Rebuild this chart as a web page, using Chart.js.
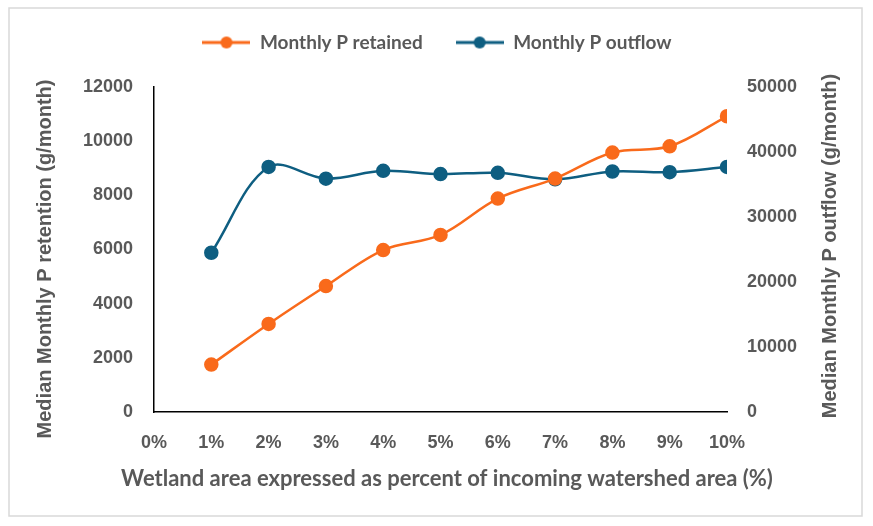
<!DOCTYPE html>
<html>
<head>
<meta charset="utf-8">
<script src="https://cdn.jsdelivr.net/npm/chart.js@4.4.1/dist/chart.umd.min.js"></script>
<style>
  body { margin: 0; background: #fff; }
  #wrap { width: 873px; height: 526px; }
</style>
</head>
<body>
<div id="wrap"><canvas id="chart" width="873" height="526"></canvas></div>
<script>
const areaPct = [1, 2, 3, 4, 5, 6, 7, 8, 9, 10];
const pRetained = [1750, 3250, 4650, 5980, 6540, 7880, 8620, 9580, 9810, 10920];
const pOutflow = [24500, 37700, 35900, 37100, 36600, 36800, 35800, 37000, 36900, 37700];
const retainedTicks = [0, 2000, 4000, 6000, 8000, 10000, 12000];
const outflowTicks = [0, 10000, 20000, 30000, 40000, 50000];

const ORANGE = '#F96A1B';
const BLUE = '#0E5E81';
const GREY = '#595959';
const TITLE_FONT = 'bold 20px "Liberation Sans"';
const X_TITLE = 'Wetland area expressed as percent of incoming watershed area (%)';

// little line + dot picture for the legend
function legendIcon(color) {
  const c = document.createElement('canvas');
  c.width = 48; c.height = 14;
  const g = c.getContext('2d');
  g.strokeStyle = color; g.lineWidth = 3;
  g.beginPath(); g.moveTo(0, 7); g.lineTo(48, 7); g.stroke();
  g.fillStyle = color;
  g.beginPath(); g.arc(24, 7, 6, 0, Math.PI * 2); g.fill();
  return c;
}

const frame = {
  id: 'frame',
  beforeDraw(chart) {
    const ctx = chart.ctx;
    ctx.save();
    ctx.fillStyle = '#fff';
    ctx.fillRect(0, 0, chart.width, chart.height);
    ctx.strokeStyle = '#d9d9d9';
    ctx.lineWidth = 1.5;
    ctx.strokeRect(9, 8, 853, 508);
    ctx.restore();
  },
  // axis titles drawn by hand: both value titles read bottom to top
  afterDraw(chart) {
    const ctx = chart.ctx;
    ctx.save();
    ctx.fillStyle = GREY;
    ctx.font = TITLE_FONT;
    ctx.textAlign = 'center';
    ctx.textBaseline = 'middle';
    [[45, 259, 'Median Monthly P retention (g/month)'],
     [830, 246, 'Median Monthly P outflow (g/month)']].forEach(t => {
      ctx.save();
      ctx.translate(t[0], t[1]);
      ctx.rotate(-Math.PI / 2);
      ctx.fillText(t[2], 0, 0);
      ctx.restore();
    });
    ctx.font = 'bold 22px Lato';
    ctx.fillText(X_TITLE, 447, 479);
    ctx.restore();
  }
};

const legendFit = {
  id: 'legendFit',
  beforeInit(chart) {
    const fit = chart.legend.fit;
    chart.legend.fit = function () {
      fit.bind(chart.legend)();
      this.height = 87;
    };
  }
};

const tickFont = { family: 'Liberation Sans', size: 18, weight: 'bold' };

new Chart(document.getElementById('chart'), {
  type: 'line',
  data: {
    datasets: [
      {
        label: 'Monthly P retained',
        data: areaPct.map((x, i) => ({ x: x, y: pRetained[i] })),
        borderColor: ORANGE,
        backgroundColor: ORANGE,
        borderWidth: 2.5,
        pointRadius: 6,
        pointHoverRadius: 6,
        tension: 0.35,
        yAxisID: 'y'
      },
      {
        label: 'Monthly P outflow',
        data: areaPct.map((x, i) => ({ x: x, y: pOutflow[i] })),
        borderColor: BLUE,
        backgroundColor: BLUE,
        borderWidth: 2.5,
        pointRadius: 6,
        pointHoverRadius: 6,
        tension: 0.35,
        yAxisID: 'y1'
      }
    ]
  },
  options: {
    responsive: false,
    animation: false,
    devicePixelRatio: 1,
    layout: { padding: { top: 0, left: 30, right: 29, bottom: 30 } },
    plugins: {
      tooltip: { enabled: false },
      legend: {
        position: 'top',
        labels: {
          usePointStyle: true,
          pointStyleWidth: 48,
          padding: 33,
          color: GREY,
          font: { family: 'Lato', size: 19, weight: 'bold', lineHeight: 1 },
          generateLabels(chart) {
            return chart.data.datasets.map((ds, i) => ({
              text: ds.label,
              fillStyle: ds.borderColor,
              strokeStyle: ds.borderColor,
              fontColor: GREY,
              pointStyle: legendIcon(ds.borderColor),
              datasetIndex: i,
              hidden: false,
              lineWidth: 0
            }));
          }
        }
      }
    },
    scales: {
      x: {
        type: 'linear',
        min: 0,
        max: 10,
        afterBuildTicks(scale) {
          scale.ticks = [0].concat(areaPct).map(v => ({ value: v }));
        },
        grid: { display: false, drawTicks: false },
        border: { display: true, color: '#000', width: 1.5 },
        ticks: {
          padding: 20,
          color: GREY,
          font: tickFont,
          callback: v => v + '%'
        },
        afterFit(scale) { scale.height = 526 - 412 - 30; }
      },
      y: {
        position: 'left',
        min: 0,
        max: 12000,
        afterBuildTicks(scale) {
          scale.ticks = retainedTicks.map(v => ({ value: v }));
        },
        grid: { display: false, drawTicks: false },
        border: { display: true, color: '#000', width: 1.5 },
        ticks: {
          padding: 21,
          color: GREY,
          font: tickFont,
          callback: v => String(v)
        },
        afterFit(scale) { scale.width = 154 - 30; }
      },
      y1: {
        position: 'right',
        min: 0,
        max: 50000,
        afterBuildTicks(scale) {
          scale.ticks = outflowTicks.map(v => ({ value: v }));
        },
        grid: { display: false, drawTicks: false },
        border: { display: false },
        ticks: {
          padding: 20,
          color: GREY,
          font: tickFont,
          callback: v => String(v)
        },
        afterFit(scale) { scale.width = 873 - 727 - 29; }
      }
    }
  },
  plugins: [frame, legendFit]
});
</script>
</body>
</html>
